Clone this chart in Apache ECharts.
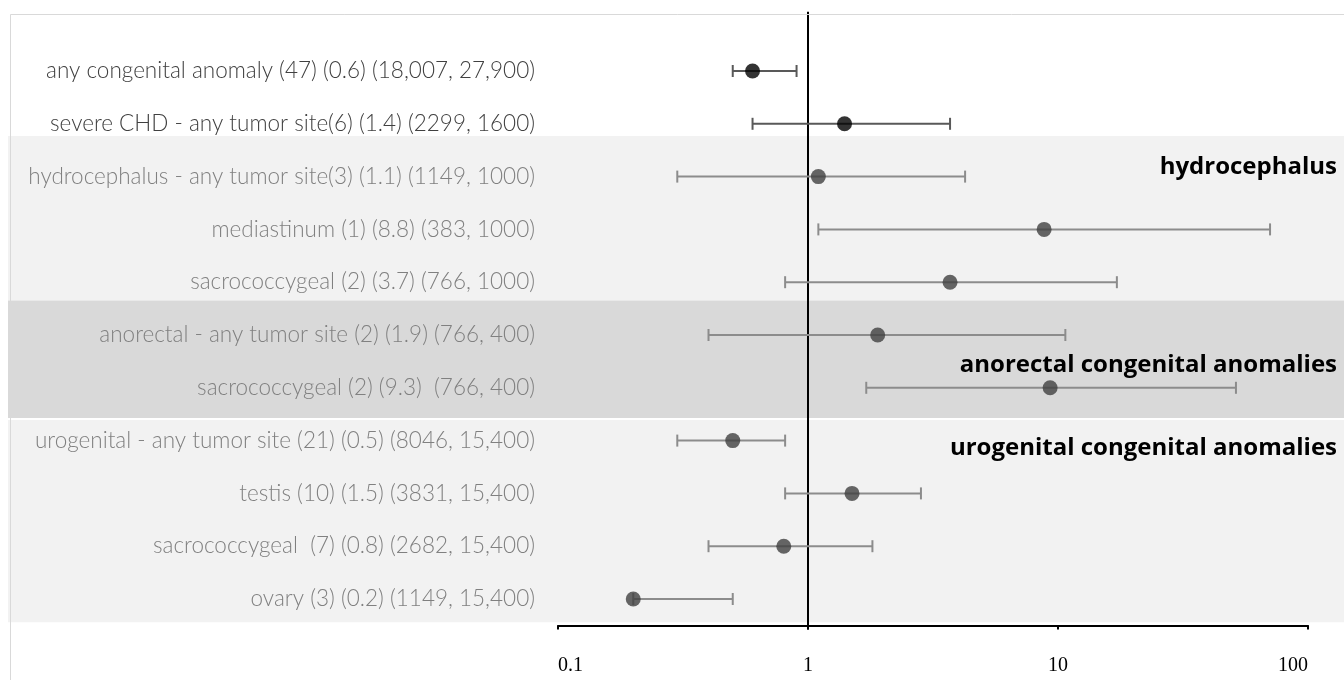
<!DOCTYPE html>
<html><head><meta charset="utf-8">
<script src="https://cdn.jsdelivr.net/npm/echarts@6/dist/echarts.min.js"></script>
<style>html,body{margin:0;padding:0;background:#fff}#c{width:1344px;height:680px}</style>
</head><body><div id="c"></div>
<script>
// ---- data ----
const rowLabels = [
  'any congenital anomaly (47) (0.6) (18,007, 27,900)',
  'severe CHD - any tumor site(6) (1.4) (2299, 1600)',
  'hydrocephalus - any tumor site(3) (1.1) (1149, 1000)',
  'mediastinum (1) (8.8) (383, 1000)',
  'sacrococcygeal (2) (3.7) (766, 1000)',
  'anorectal - any tumor site (2) (1.9) (766, 400)',
  'sacrococcygeal (2) (9.3)  (766, 400)',
  'urogenital - any tumor site (21) (0.5) (8046, 15,400)',
  'testis (10) (1.5) (3831, 15,400)',
  'sacrococcygeal  (7) (0.8) (2682, 15,400)',
  'ovary (3) (0.2) (1149, 15,400)'
];
const estimate = [0.6, 1.4, 1.1, 8.8, 3.7, 1.9, 9.3, 0.5, 1.5, 0.8, 0.2];
const lowerCI  = [0.5, 0.6, 0.3, 1.1, 0.81, 0.4, 1.71, 0.3, 0.81, 0.4, 0.2];
const upperCI  = [0.9, 3.7, 4.25, 70.5, 17.2, 10.7, 51.5, 0.81, 2.83, 1.81, 0.5];
const overallRow = [true, true, false, false, false, false, false, false, false, false, false];
const groupNames = ['hydrocephalus', 'anorectal congenital anomalies', 'urogenital congenital anomalies'];
const tickLabels = ['0.1', '1', '10', '100'];

// ---- layout / style (row units on the hidden value axis) ----
const bandSpans = [[1.231, 4.347], [4.347, 6.572], [6.61, 10.441]];
const bandLabelRow = [1.818, 5.568, 7.14];
const bandColors = ['#f2f2f2', '#d9d9d9', '#f2f2f2'];

const chart = echarts.init(document.getElementById('c'), null, {renderer: 'canvas'});

const option = {
  animation: false,
  backgroundColor: '#fff',
  graphic: [{
    type: 'rect', left: 8, top: 12, z: 100, silent: true,
    shape: {width: 1400, height: 700},
    style: {fill: 'none', stroke: '#d9d9d9', lineWidth: 1}
  }],
  grid: {left: 558, right: 36, top: 44.6, bottom: 54.6},
  xAxis: {
    type: 'log', logBase: 10, min: 0.1, max: 100,
    splitLine: {show: false}, minorTick: {show: false},
    axisLine: {show: true, onZero: false, lineStyle: {color: '#000', width: 2}},
    axisTick: {show: true, length: 4, lineStyle: {color: '#000', width: 2}},
    axisLabel: {
      fontFamily: 'Liberation Serif', fontSize: 20, color: '#000', margin: 30,
      alignMinLabel: 'left', alignMaxLabel: 'right',
      formatter: function (v) {
        const k = Math.round(Math.log10(v)) + 1;
        return tickLabels[k] !== undefined ? tickLabels[k] : String(v);
      }
    }
  },
  yAxis: [{
    type: 'value', inverse: true, min: -0.5, max: 10.5, show: false
  }, {
    type: 'category', inverse: true, data: rowLabels, position: 'left',
    axisLine: {show: false}, axisTick: {show: false}, splitLine: {show: false},
    axisLabel: {
      margin: 23, fontFamily: 'Lato', fontWeight: 300, fontSize: 22.5,
      color: function (val, idx) { return overallRow[idx] ? '#404040' : '#808080'; }
    }
  }],
  series: [{
    type: 'custom', name: 'bands', clip: false, silent: true, z: 0,
    xAxisIndex: 0, yAxisIndex: 0,
    data: groupNames.map(function (g, i) { return [1, bandSpans[i][0], bandSpans[i][1], bandLabelRow[i], i]; }),
    encode: {x: 0, y: 1},
    renderItem: function (params, api) {
      const i = api.value(4);
      const yTop = api.coord([1, api.value(1)])[1];
      const yBot = api.coord([1, api.value(2)])[1];
      const yLab = api.coord([1, api.value(3)])[1];
      const W = api.getWidth();
      return {
        type: 'group', children: [{
          type: 'rect', shape: {x: 8, y: yTop, width: W - 8, height: yBot - yTop},
          style: {fill: bandColors[i]}
        }, {
          type: 'text', z2: 10,
          style: {
            text: groupNames[i], x: W - 7, y: yLab, align: 'right', verticalAlign: 'middle',
            fontFamily: 'Open Sans', fontWeight: 700, fontSize: 24, fill: '#000'
          }
        }]
      };
    }
  }, {
    type: 'custom', name: 'ref', clip: false, silent: true, z: 3,
    xAxisIndex: 0, yAxisIndex: 0,
    data: [[1, -1.12, 10.58]],
    encode: {x: 0, y: 1},
    renderItem: function (params, api) {
      const p1 = api.coord([api.value(0), api.value(1)]);
      const p2 = api.coord([api.value(0), api.value(2)]);
      return {type: 'line', shape: {x1: p1[0], y1: p1[1], x2: p2[0], y2: p2[1]},
              style: {stroke: '#000', lineWidth: 2}};
    }
  }, {
    type: 'custom', name: 'ci', clip: false, silent: true, z: 4,
    xAxisIndex: 0, yAxisIndex: 0,
    data: estimate.map(function (e, i) { return [lowerCI[i], upperCI[i], i]; }),
    encode: {x: [0, 1], y: 2},
    renderItem: function (params, api) {
      const i = api.value(2);
      const a = api.coord([api.value(0), i]);
      const b = api.coord([api.value(1), i]);
      const col = overallRow[i] ? '#595959' : '#8c8c8c';
      const h = 6;
      const st = {stroke: col, lineWidth: 2};
      return {type: 'group', children: [
        {type: 'line', shape: {x1: a[0], y1: a[1], x2: b[0], y2: b[1]}, style: st},
        {type: 'line', shape: {x1: a[0], y1: a[1] - h, x2: a[0], y2: a[1] + h}, style: st},
        {type: 'line', shape: {x1: b[0], y1: b[1] - h, x2: b[0], y2: b[1] + h}, style: st}
      ]};
    }
  }, {
    type: 'scatter', name: 'estimate', z: 5, silent: true,
    xAxisIndex: 0, yAxisIndex: 0,
    symbol: 'circle', symbolSize: 15,
    data: estimate.map(function (e, i) {
      return {value: [e, i], itemStyle: {color: overallRow[i] ? '#000' : '#404040'}};
    })
  }]
};
chart.setOption(option);
</script>
</body></html>
